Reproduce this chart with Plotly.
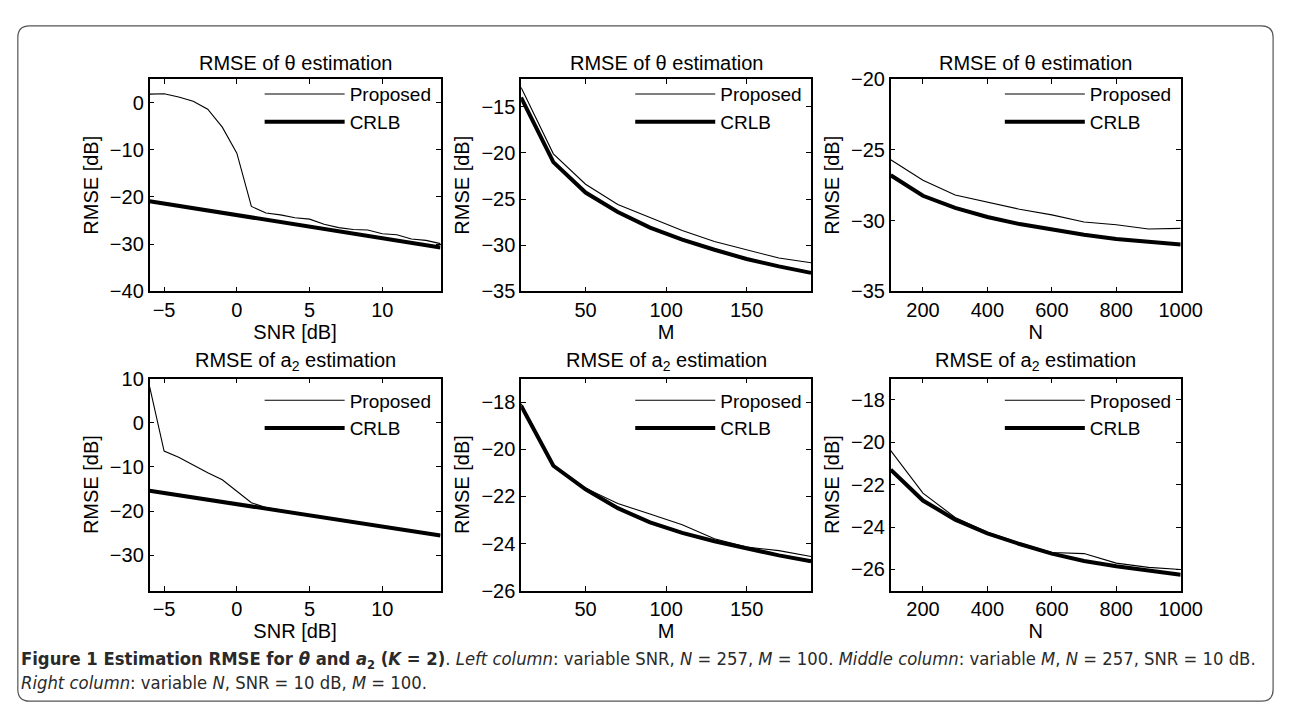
import plotly.graph_objects as go

W, H = 1293, 710

# ---------------- data ----------------
snr = [-6, -5, -4, -3, -2, -1, 0, 1, 2, 3, 4, 5, 6, 7, 8, 9, 10, 11, 12, 13, 14]
m_vals = [10, 30, 50, 70, 90, 110, 130, 150, 170, 190]
n_vals = [100, 200, 300, 400, 500, 600, 700, 800, 900, 1000]

theta_snr_prop = [1.8, 1.9, 1.2, 0.3, -1.4, -5.2, -10.7, -22.0, -23.4, -23.8, -24.4, -24.7,
                  -25.8, -26.5, -26.9, -27.0, -27.8, -28.0, -28.9, -29.2, -29.9]
theta_snr_crlb = [-20.9, -21.4, -21.9, -22.4, -22.9, -23.4, -23.9, -24.4, -24.9, -25.4, -25.9,
                  -26.3, -26.8, -27.3, -27.8, -28.3, -28.8, -29.3, -29.8, -30.2, -30.7]

theta_m_prop = [-12.9, -20.1, -23.4, -25.6, -27.0, -28.4, -29.6, -30.5, -31.4, -31.9]
theta_m_crlb = [-14.0, -21.0, -24.3, -26.4, -28.1, -29.4, -30.5, -31.5, -32.3, -33.0]

theta_n_prop = [-25.7, -27.15, -28.2, -28.7, -29.2, -29.6, -30.1, -30.3, -30.6, -30.55]
theta_n_crlb = [-26.8, -28.25, -29.1, -29.75, -30.25, -30.65, -31.0, -31.3, -31.5, -31.7]

a2_snr_prop = [8.2, -6.4, -7.8, -9.6, -11.3, -12.9, -15.5, -18.1, -19.2, -19.8, -20.3, -20.8,
               -21.3, -21.8, -22.4, -22.9, -23.4, -23.9, -24.4, -24.9, -25.4]
a2_snr_crlb = [-15.4, -15.9, -16.4, -16.9, -17.4, -17.9, -18.4, -18.9, -19.4, -19.9, -20.4,
               -20.9, -21.4, -21.9, -22.5, -23.0, -23.5, -24.0, -24.5, -25.0, -25.5]

a2_m_prop = [-18.07, -20.7, -21.65, -22.3, -22.75, -23.2, -23.8, -24.15, -24.3, -24.55]
a2_m_crlb = [-18.15, -20.7, -21.7, -22.5, -23.1, -23.55, -23.9, -24.2, -24.5, -24.75]

a2_n_prop = [-20.4, -22.4, -23.55, -24.25, -24.75, -25.2, -25.25, -25.7, -25.9, -26.0]
a2_n_crlb = [-21.3, -22.75, -23.65, -24.3, -24.8, -25.25, -25.6, -25.85, -26.05, -26.25]

series_names = ["Proposed", "CRLB"]
title_theta = "RMSE of θ estimation"
title_a2 = "RMSE of a<sub>2</sub> estimation"
ylabel = "RMSE [dB]"
xlabels = ["SNR [dB]", "M", "N"]

caption1 = ("<b>Figure 1 Estimation RMSE for <i>θ</i> and <i>a</i><sub>2</sub> (<i>K</i> = 2)</b>. "
            "<i>Left column</i>: variable SNR, <i>N</i> = 257, <i>M</i> = 100. "
            "<i>Middle column</i>: variable <i>M</i>, <i>N</i> = 257, SNR = 10 dB.")
caption2 = "<i>Right column</i>: variable <i>N</i>, SNR = 10 dB, <i>M</i> = 100."

panels = [
    dict(x=snr, p=theta_snr_prop, c=theta_snr_crlb, xr=[-6, 14], yr=[-40, 5],
         xt=[-5, 0, 5, 10], yt=[-40, -30, -20, -10, 0], title=title_theta, xl=xlabels[0]),
    dict(x=m_vals, p=theta_m_prop, c=theta_m_crlb, xr=[10, 190], yr=[-35, -12],
         xt=[50, 100, 150], yt=[-35, -30, -25, -20, -15], title=title_theta, xl=xlabels[1]),
    dict(x=n_vals, p=theta_n_prop, c=theta_n_crlb, xr=[100, 1000], yr=[-35, -20],
         xt=[200, 400, 600, 800, 1000], yt=[-35, -30, -25, -20], title=title_theta, xl=xlabels[2]),
    dict(x=snr, p=a2_snr_prop, c=a2_snr_crlb, xr=[-6, 14], yr=[-38, 10],
         xt=[-5, 0, 5, 10], yt=[-30, -20, -10, 0, 10], title=title_a2, xl=xlabels[0]),
    dict(x=m_vals, p=a2_m_prop, c=a2_m_crlb, xr=[10, 190], yr=[-26, -17],
         xt=[50, 100, 150], yt=[-26, -24, -22, -20, -18], title=title_a2, xl=xlabels[1]),
    dict(x=n_vals, p=a2_n_prop, c=a2_n_crlb, xr=[100, 1000], yr=[-27, -17],
         xt=[200, 400, 600, 800, 1000], yt=[-26, -24, -22, -20, -18], title=title_a2, xl=xlabels[2]),
]

# ---------------- layout geometry (pixels) ----------------
col_px = [(144, 440), (522, 817), (898, 1193)]
row_px = [(62, 281), (371, 590)]
legend_drop = [-4, 3]

FONT = "Liberation Sans, Arial, Helvetica, sans-serif"
FS = 20

fig = go.Figure()
layout = dict(
    width=W, height=H, autosize=False,
    margin=dict(l=0, r=0, t=0, b=0),
    paper_bgcolor="white", plot_bgcolor="white",
    font=dict(family=FONT, size=FS, color="black"),
    showlegend=True,
)
annotations = []

for i, pnl in enumerate(panels):
    r, c = divmod(i, 3)
    k = "" if i == 0 else str(i + 1)
    x0, x1 = col_px[c]
    y0, y1 = row_px[r]
    dom_x = [x0 / W, x1 / W]
    dom_y = [1 - y1 / H, 1 - y0 / H]
    leg = "legend" + k
    fig.add_trace(go.Scatter(x=pnl["x"], y=pnl["p"], mode="lines", name=series_names[0],
                             line=dict(color="black", width=1.1), xaxis="x" + k, yaxis="y" + k,
                             legend=leg))
    fig.add_trace(go.Scatter(x=pnl["x"], y=pnl["c"], mode="lines", name=series_names[1],
                             line=dict(color="black", width=4), xaxis="x" + k, yaxis="y" + k,
                             legend=leg))
    common = dict(showline=True, linecolor="black", linewidth=1.5, mirror="allticks",
                  ticks="inside", ticklen=5, tickwidth=1, tickcolor="black",
                  showgrid=False, zeroline=False, fixedrange=True,
                  tickfont=dict(family=FONT, size=FS, color="black"))
    layout["xaxis" + k] = dict(common, domain=dom_x, range=pnl["xr"], tickvals=pnl["xt"],
                               anchor="y" + k,
                               title=dict(text=pnl["xl"], standoff=0,
                                          font=dict(family=FONT, size=FS)))
    layout["yaxis" + k] = dict(common, domain=dom_y, range=pnl["yr"], tickvals=pnl["yt"],
                               anchor="x" + k,
                               title=dict(text=ylabel, standoff=6,
                                          font=dict(family=FONT, size=FS)))
    layout[leg] = dict(x=(x1 - 184) / W, xanchor="left", y=1 - (y0 + legend_drop[r]) / H,
                       yanchor="top",
                       bgcolor="rgba(0,0,0,0)", borderwidth=0, itemwidth=80,
                       font=dict(family=FONT, size=19, color="black"),
                       tracegroupgap=0, itemclick=False, itemdoubleclick=False)
    annotations.append(dict(text=pnl["title"], x=(x0 + x1) / 2 / W, y=1 - (y0 - 3) / H,
                            xref="paper", yref="paper", xanchor="center", yanchor="bottom",
                            showarrow=False, font=dict(family=FONT, size=FS, color="black")))

CAPFONT = "Liberation Sans Narrow, DejaVu Sans Condensed, Arial Narrow, sans-serif"
annotations.append(dict(text=caption1, x=11 / W, y=1 - 662 / H, xref="paper", yref="paper",
                        xanchor="left", yanchor="middle", showarrow=False, align="left",
                        font=dict(family=CAPFONT, size=18.3, color="#2a2a2a")))
annotations.append(dict(text=caption2, x=11 / W, y=1 - 685 / H, xref="paper", yref="paper",
                        xanchor="left", yanchor="middle", showarrow=False, align="left",
                        font=dict(family=CAPFONT, size=18.3, color="#2a2a2a")))

# rounded outer border
bx0, by0, bx1, by1, rr = 10, 7, 1287, 704, 12
def P(x, y):
    return f"{x / W:.6f},{1 - y / H:.6f}"
path = (f"M {P(bx0 + rr, by0)} L {P(bx1 - rr, by0)} Q {P(bx1, by0)} {P(bx1, by0 + rr)} "
        f"L {P(bx1, by1 - rr)} Q {P(bx1, by1)} {P(bx1 - rr, by1)} "
        f"L {P(bx0 + rr, by1)} Q {P(bx0, by1)} {P(bx0, by1 - rr)} "
        f"L {P(bx0, by0 + rr)} Q {P(bx0, by0)} {P(bx0 + rr, by0)} Z")
layout["shapes"] = [dict(type="path", path=path, xref="paper", yref="paper",
                         line=dict(color="#555", width=1.2), layer="below")]
layout["annotations"] = annotations

fig.update_layout(**layout)
fig.write_html("out.html")
